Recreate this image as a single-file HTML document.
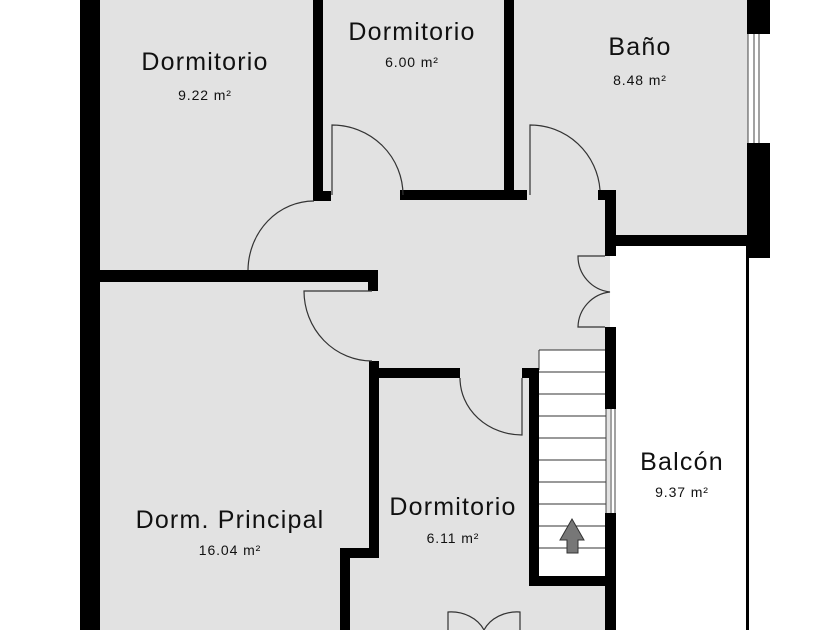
<!DOCTYPE html>
<html><head><meta charset="utf-8"><style>
html,body{margin:0;padding:0;background:#fff;width:840px;height:630px;overflow:hidden}
svg{display:block}
text{font-family:"Liberation Sans",sans-serif;fill:#111;text-anchor:middle}
.t{font-size:25px;letter-spacing:1.2px}.s{font-size:14px;letter-spacing:0.9px}
</style></head><body>
<svg width="840" height="630" viewBox="0 0 840 630" xmlns="http://www.w3.org/2000/svg">
<rect x="100" y="0" width="510" height="630" fill="#e2e2e2"/>
<rect x="610" y="0" width="138" height="240" fill="#e2e2e2"/>
<rect x="539" y="350" width="67" height="227" fill="#fff"/>
<g stroke="#333" stroke-width="1">
<line x1="539" y1="350" x2="539" y2="370"/>
<line x1="539" y1="350" x2="606" y2="350"/>
<line x1="539" y1="372" x2="606" y2="372"/>
<line x1="539" y1="394" x2="606" y2="394"/>
<line x1="539" y1="416" x2="606" y2="416"/>
<line x1="539" y1="438" x2="606" y2="438"/>
<line x1="539" y1="460" x2="606" y2="460"/>
<line x1="539" y1="482" x2="606" y2="482"/>
<line x1="539" y1="504" x2="606" y2="504"/>
<line x1="539" y1="526" x2="606" y2="526"/>
<line x1="539" y1="548" x2="606" y2="548"/>
</g>
<polygon points="572,519 584,540 578,540 578,553 567,553 567,540 560,540" fill="#777" stroke="#333" stroke-width="1"/>
<g fill="#000">
<rect x="80" y="0" width="20" height="630"/>
<rect x="313" y="0" width="10" height="201"/>
<rect x="313" y="191" width="18" height="10"/>
<rect x="400" y="190" width="127" height="10"/>
<rect x="504" y="0" width="10" height="200"/>
<rect x="598" y="190" width="18" height="10"/>
<rect x="605" y="190" width="11" height="66"/>
<rect x="616" y="235" width="132" height="11"/>
<rect x="747" y="0" width="23" height="34"/>
<rect x="747" y="143" width="23" height="115"/>
<rect x="100" y="270" width="278" height="12"/>
<rect x="368" y="270" width="10" height="21"/>
<rect x="369" y="361" width="10" height="197"/>
<rect x="369" y="368" width="91" height="10"/>
<rect x="340" y="548" width="38" height="10"/>
<rect x="340" y="548" width="10" height="82"/>
<rect x="522" y="368" width="17" height="10"/>
<rect x="529" y="368" width="10" height="218"/>
<rect x="529" y="576" width="87" height="10"/>
<rect x="605" y="327" width="11" height="82"/>
<rect x="605" y="513" width="11" height="117"/>
</g>
<g stroke="#444" stroke-width="1" fill="none">
<line x1="748" y1="34" x2="748" y2="143"/><line x1="754" y1="34" x2="754" y2="143"/><line x1="759" y1="34" x2="759" y2="143"/>
<line x1="606" y1="409" x2="606" y2="513"/><line x1="611" y1="409" x2="611" y2="513"/><line x1="615" y1="409" x2="615" y2="513"/>
</g>
<rect x="746" y="246" width="3" height="384" fill="#000"/>
<g stroke="#333" stroke-width="1.2" fill="none">
<path d="M248 270 A66 70 0 0 1 314 201"/>
<path d="M332 195 L332 125 A71 70 0 0 1 403 195"/>
<path d="M530 195 L530 125 A70 70 0 0 1 600 190"/>
<path d="M372 291 L304 291 A68 70 0 0 0 372 361"/>
<path d="M460 378 A62 57 0 0 0 522 435 L522 378"/>
<path d="M605 256 L578 256 A36 36 0 0 0 610 292 A36 36 0 0 0 578 327 L605 327"/>
<path d="M448 630 L448 612 A36 30 0 0 1 484 630"/>
<path d="M520 630 L520 612 A36 30 0 0 0 484 630"/>
</g>
<text class="t" x="205" y="70">Dormitorio</text><text class="s" x="205" y="100">9.22 m²</text>
<text class="t" x="412" y="40">Dormitorio</text><text class="s" x="412" y="67">6.00 m²</text>
<text class="t" x="640" y="55">Baño</text><text class="s" x="640" y="85">8.48 m²</text>
<text class="t" x="230" y="528">Dorm. Principal</text><text class="s" x="230" y="555">16.04 m²</text>
<text class="t" x="453" y="515">Dormitorio</text><text class="s" x="453" y="543">6.11 m²</text>
<text class="t" x="682" y="470">Balcón</text><text class="s" x="682" y="497">9.37 m²</text>
</svg>
</body></html>
